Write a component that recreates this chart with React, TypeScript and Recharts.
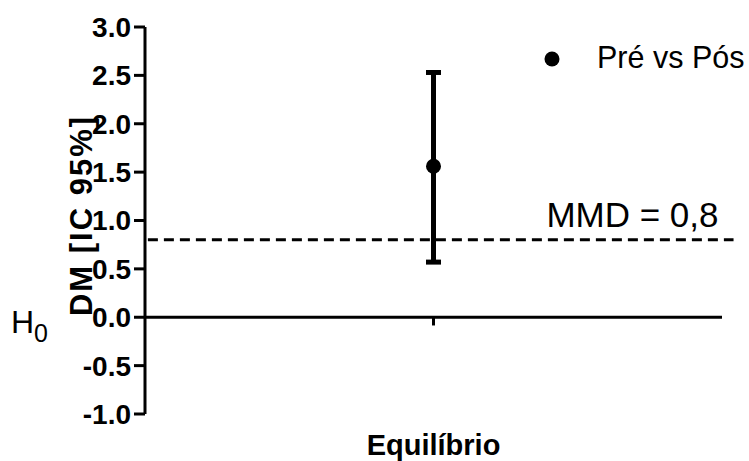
import React from 'react';
import { ScatterChart, Scatter, XAxis, YAxis, ErrorBar, ReferenceLine, Legend } from 'recharts';

const categories = ['Equilíbrio'];
const seriesName = 'Pré vs Pós';
const meanDiff = [1.56];
const ciLower = [0.57];
const ciUpper = [2.53];
const mmdValue = 0.8;
const mmdLabel = 'MMD = 0,8';
const yTicks = [-1, -0.5, 0, 0.5, 1, 1.5, 2, 2.5, 3];
const yLabel = 'DM [IC 95%]';
const h0Main = 'H';
const h0Sub = '0';

const FONT = '"Liberation Sans", Arial, Helvetica, sans-serif';

const data = categories.map((c, i) => ({
  name: c,
  x: i + 1,
  mean: meanDiff[i],
  ci: [meanDiff[i] - ciLower[i], ciUpper[i] - meanDiff[i]],
}));
const xMax = categories.length + 1;

const renderXLabel = (props: any) => {
  const vb = props.viewBox || {};
  return (
    <text x={vb.x + vb.width / 2} y={vb.y + 41} textAnchor="middle" fontFamily={FONT} fontWeight="bold" fontSize={29} fill="#000">
      {categories[0]}
    </text>
  );
};

const renderYLabel = (props: any) => {
  const vb = props.viewBox || {};
  const cx = 92;
  const cy = vb.y + vb.height / 2 - 5;
  return (
    <text x={cx} y={cy} transform={`rotate(-90, ${cx}, ${cy})`} textAnchor="middle" fontFamily={FONT} fontWeight="bold" fontSize={31} letterSpacing={2} fill="#000">
      {yLabel}
    </text>
  );
};

const renderH0 = (props: any) => {
  const vb = props.viewBox || {};
  return (
    <text x={vb.x - 134} y={vb.y + 16} fontFamily={FONT} fontSize={32} fill="#000">
      {h0Main}
      <tspan fontSize={25} dy={9}>{h0Sub}</tspan>
    </text>
  );
};

const renderMMD = (props: any) => {
  const vb = props.viewBox || {};
  return (
    <text x={vb.x + vb.width - 15} y={vb.y - 13} textAnchor="end" fontFamily={FONT} fontSize={35} fill="#000">
      {mmdLabel}
    </text>
  );
};

const renderLegend = () => (
  <svg width={215} height={40} style={{ display: 'block' }}>
    <circle cx={12} cy={20} r={7.5} fill="#000" />
    <text x={57} y={29} fontFamily={FONT} fontSize={30.5} fill="#000">{seriesName}</text>
  </svg>
);

const Dot = (props: any) => <circle cx={props.cx} cy={props.cy} r={7.5} fill="#000" />;

export default function App() {
  return (
    <div style={{ position: 'absolute', left: 0, top: 0, background: '#fff' }}>
      <ScatterChart width={749} height={461} margin={{ top: 27, right: 27, bottom: 0, left: 0 }}>
        <XAxis
          dataKey="x"
          type="number"
          domain={[0, xMax]}
          tick={false}
          tickLine={false}
          axisLine={false}
          height={47}
          label={renderXLabel}
        />
        <YAxis
          dataKey="mean"
          type="number"
          domain={[-1, 3]}
          ticks={yTicks}
          interval={0}
          width={145}
          tickSize={11}
          tickMargin={3}
          tickFormatter={(v: number) => v.toFixed(1)}
          axisLine={{ stroke: '#000', strokeWidth: 3 }}
          tickLine={{ stroke: '#000', strokeWidth: 3 }}
          tick={{ fill: '#000', fontSize: 28, fontWeight: 'bold', fontFamily: FONT }}
          label={renderYLabel}
        />
        <ReferenceLine y={0} stroke="#000" strokeWidth={3} label={renderH0} />
        {data.map((d) => (
          <ReferenceLine
            key={d.name}
            segment={[{ x: d.x, y: 0 }, { x: d.x, y: -0.085 }]}
            stroke="#000"
            strokeWidth={3}
          />
        ))}
        <ReferenceLine
          segment={[{ x: 0.01, y: mmdValue }, { x: xMax * 1.02, y: mmdValue }]}
          ifOverflow="visible"
          stroke="#000"
          strokeWidth={3}
          strokeDasharray="10 6"
          label={renderMMD}
        />
        <Legend
          layout="horizontal"
          verticalAlign="middle"
          align="center"
          wrapperStyle={{ left: 540, top: 39, width: 215 }}
          content={renderLegend}
        />
        <Scatter name={seriesName} data={data} fill="#000" shape={Dot} isAnimationActive={false}>
          <ErrorBar dataKey="ci" direction="y" width={7.5} stroke="#000" strokeWidth={5} isAnimationActive={false} />
        </Scatter>
      </ScatterChart>
    </div>
  );
}
